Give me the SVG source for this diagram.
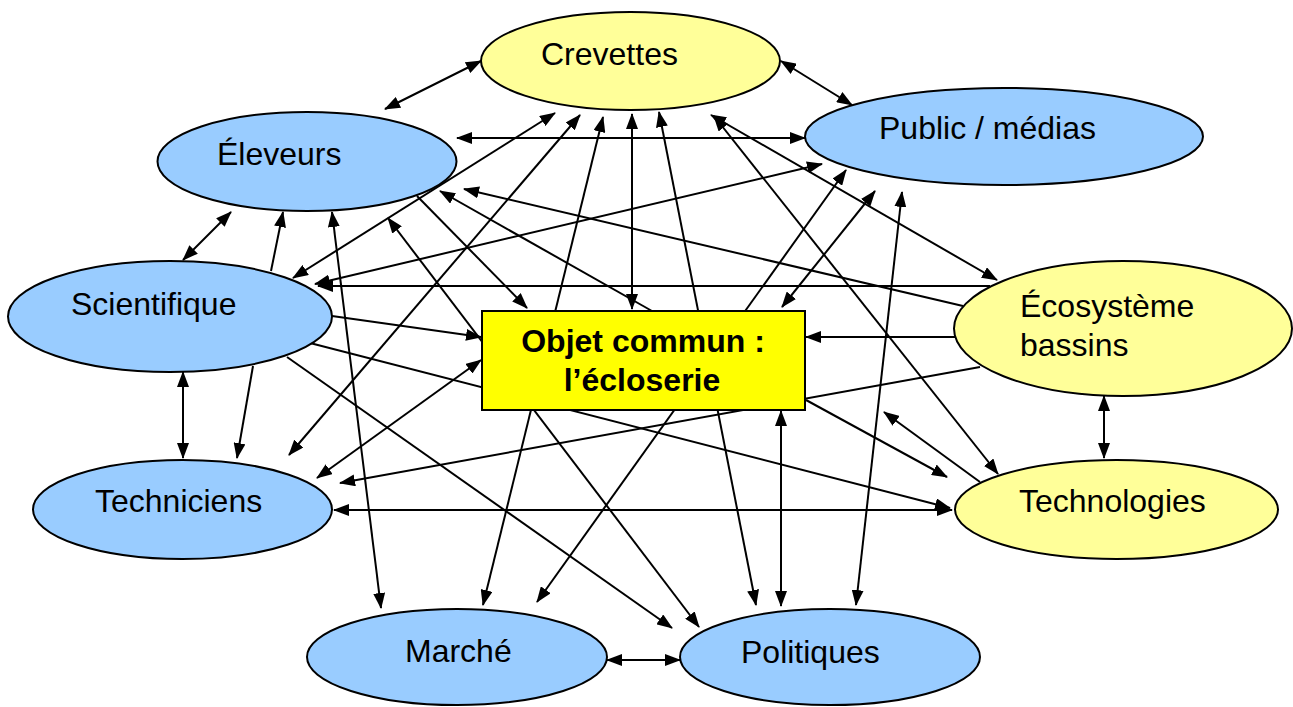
<svg xmlns="http://www.w3.org/2000/svg" width="1293" height="707" viewBox="0 0 1293 707">
<style>
.c line{stroke:#000;stroke-width:2;fill:none}
.b{marker-start:url(#ah);marker-end:url(#ah)}
.e{marker-end:url(#ah)}
.blue{fill:#99CCFF;stroke:#000;stroke-width:2}
.yel{fill:#FFFF99;stroke:#000;stroke-width:2}
.t{font-family:"Liberation Sans",Arial,sans-serif;font-size:32px;fill:#000}
.tb{font-family:"Liberation Sans",Arial,sans-serif;font-size:32px;font-weight:bold;fill:#000}
</style>
<defs>
<marker id="ah" viewBox="0 0 16 12" refX="15" refY="6" markerWidth="16" markerHeight="12" markerUnits="userSpaceOnUse" orient="auto-start-reverse">
<path d="M0,0 L16,6 L0,12 z" fill="#000"/>
</marker>
</defs>
<rect width="1293" height="707" fill="#fff"/>
<g id="connectors" class="c">
<line class="b" x1="385" y1="109" x2="481" y2="61"/>
<line class="b" x1="781" y1="61" x2="852" y2="105"/>
<line class="b" x1="457" y1="138" x2="805" y2="138"/>
<line class="b" x1="183" y1="260" x2="231" y2="212"/>
<line class="e" x1="271" y1="271" x2="283" y2="212"/>
<line class="b" x1="332" y1="212" x2="381" y2="608"/>
<line class="b" x1="388" y1="218" x2="699" y2="627"/>
<line class="e" x1="417" y1="196" x2="527" y2="308"/>
<line class="e" x1="652" y1="311" x2="440" y2="191"/>
<line class="e" x1="963" y1="306" x2="464" y2="189"/>
<line class="b" x1="293" y1="278" x2="555" y2="113"/>
<line class="b" x1="289" y1="455" x2="580" y2="115"/>
<line class="b" x1="483" y1="605" x2="603" y2="117"/>
<line class="b" x1="632" y1="309" x2="632" y2="114"/>
<line class="b" x1="756" y1="605" x2="659" y2="112"/>
<line class="b" x1="997" y1="280" x2="711" y2="115"/>
<line class="b" x1="998" y1="474" x2="714" y2="116"/>
<line class="b" x1="315" y1="284" x2="822" y2="164"/>
<line class="e" x1="990" y1="286" x2="318" y2="286"/>
<line class="e" x1="332" y1="316" x2="481" y2="337"/>
<line class="e" x1="310" y1="343" x2="950" y2="508"/>
<line class="e" x1="287" y1="357" x2="672" y2="628"/>
<line class="b" x1="183" y1="372" x2="183" y2="458"/>
<line class="e" x1="253" y1="366" x2="237" y2="458"/>
<line class="b" x1="317" y1="478" x2="481" y2="360"/>
<line class="e" x1="980" y1="367" x2="340" y2="483"/>
<line class="b" x1="334" y1="510" x2="952" y2="510"/>
<line class="b" x1="537" y1="602" x2="846" y2="170"/>
<line class="b" x1="875" y1="191" x2="782" y2="307"/>
<line class="b" x1="856" y1="605" x2="902" y2="192"/>
<line class="e" x1="955" y1="337" x2="806" y2="337"/>
<line class="b" x1="1104" y1="396" x2="1104" y2="458"/>
<line class="e" x1="806" y1="400" x2="947" y2="477"/>
<line class="e" x1="980" y1="482" x2="884" y2="412"/>
<line class="b" x1="781" y1="411" x2="781" y2="606"/>
<line class="b" x1="607" y1="660" x2="680" y2="660"/>
</g>
<g id="crevettes"><ellipse class="yel" cx="630.5" cy="61" rx="149.5" ry="49"/><text class="t" x="541" y="65">Crevettes</text></g>
<g id="public"><ellipse class="blue" cx="1004" cy="136.5" rx="199" ry="48.5"/><text class="t" x="879" y="139">Public / médias</text></g>
<g id="eleveurs"><ellipse class="blue" cx="307" cy="161.5" rx="149.5" ry="49.5"/><text class="t" x="217" y="165">Éleveurs</text></g>
<g id="scientifique"><ellipse class="blue" cx="170" cy="316.5" rx="162" ry="55.5"/><text class="t" x="71" y="315">Scientifique</text></g>
<g id="ecosysteme"><ellipse class="yel" cx="1123" cy="328.5" rx="169" ry="67.5"/><text class="t" x="1020" y="317">Écosystème</text><text class="t" x="1020" y="356">bassins</text></g>
<g id="techniciens"><ellipse class="blue" cx="182.5" cy="509.5" rx="149.5" ry="49.5"/><text class="t" x="95" y="512">Techniciens</text></g>
<g id="technologies"><ellipse class="yel" cx="1116.5" cy="509.5" rx="161.5" ry="49.5"/><text class="t" x="1019" y="512">Technologies</text></g>
<g id="marche"><ellipse class="blue" cx="457" cy="657" rx="150" ry="48"/><text class="t" x="405" y="662">Marché</text></g>
<g id="politiques"><ellipse class="blue" cx="830" cy="657" rx="150" ry="48"/><text class="t" x="741" y="663">Politiques</text></g>
<g id="objet"><rect x="482" y="311" width="323" height="99" fill="#FFFF00" stroke="#000" stroke-width="2"/><text class="tb" x="643" y="352" text-anchor="middle">Objet commun :</text><text class="tb" x="642" y="391" text-anchor="middle">l’écloserie</text></g>
</svg>
